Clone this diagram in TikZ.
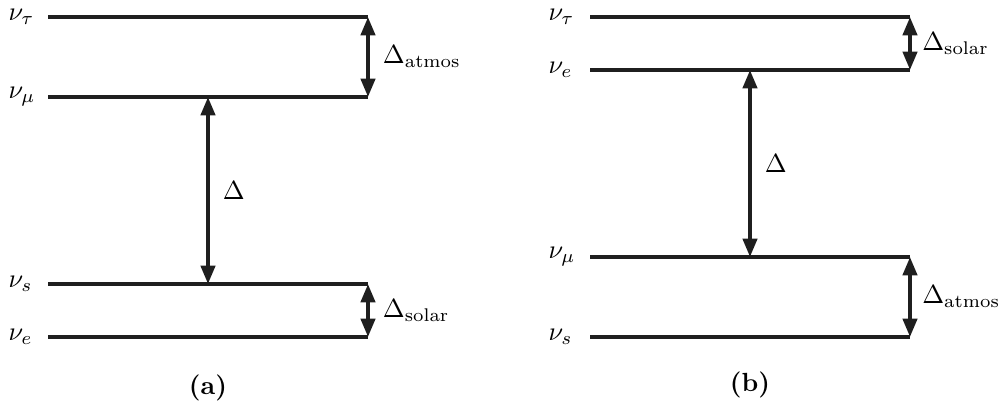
\documentclass[tikz,border=0pt]{standalone}
\usepackage{amsmath}
\usetikzlibrary{arrows.meta}

\begin{document}
\begin{tikzpicture}[
  x=0.0134cm, y=-0.0134cm,
  level/.style={line width=1.4pt, draw=black!88},
  gap/.style={{Triangle[length=7pt,width=5.4pt]}-{Triangle[length=7pt,width=5.4pt]}, line width=1.4pt, draw=black!88},
  state/.style={anchor=west, inner sep=0pt},
  split/.style={anchor=west, inner sep=0pt, xshift=5pt},
  caption/.style={font=\bfseries}
]
\useasboundingbox (0,0) rectangle (998,403);

% (a)
\coordinate (tauLa) at (48,17);   \coordinate (tauRa) at (368,17);
\coordinate (muLa)  at (48,97);   \coordinate (muRa)  at (368,97);
\coordinate (sLa)   at (48,284);  \coordinate (sRa)   at (368,284);
\coordinate (eLa)   at (48,337);  \coordinate (eRa)   at (368,337);
\path (muLa) -- (muRa) coordinate[midway] (muMa);
\path (sLa) -- (sRa) coordinate[midway] (sMa);

\foreach \lv in {tau,mu,s,e}
  \draw[level] (\lv La) -- (\lv Ra);

\node[state] (ntaua) at (8,17)  {$\nu_\tau$};
\node[state] (nmua)  at (8,97)  {$\nu_\mu$};
\node[state] (nsa)   at (8,284) {$\nu_s$};
\node[state] (nea)   at (8,337) {$\nu_e$};

\draw[gap] (tauRa) -- (muRa) node[midway, split] (atma) {$\Delta_{\text{atmos}}$};
\draw[gap] (muMa) -- (sMa) node[midway, split] (dela) {$\Delta$};
\draw[gap] (sRa) -- (eRa) node[midway, split] (sola) {$\Delta_{\text{solar}}$};

\node[caption] (capa) at (208,388) {(a)};

% (b)
\coordinate (tauLb) at (590,17);   \coordinate (tauRb) at (910,17);
\coordinate (eLb)   at (590,70);   \coordinate (eRb)   at (910,70);
\coordinate (muLb)  at (590,257);  \coordinate (muRb)  at (910,257);
\coordinate (sLb)   at (590,337);  \coordinate (sRb)   at (910,337);
\path (eLb) -- (eRb) coordinate[midway] (eMb);
\path (muLb) -- (muRb) coordinate[midway] (muMb);

\foreach \lv in {tau,e,mu,s}
  \draw[level] (\lv Lb) -- (\lv Rb);

\node[state] (ntaub) at (548,17)  {$\nu_\tau$};
\node[state] (neb)   at (548,70)  {$\nu_e$};
\node[state] (nmub)  at (548,257) {$\nu_\mu$};
\node[state] (nsb)   at (548,337) {$\nu_s$};

\draw[gap] (tauRb) -- (eRb) node[midway, split, xshift=-1pt] (solb) {$\Delta_{\text{solar}}$};
\draw[gap] (eMb) -- (muMb) node[midway, split] (delb) {$\Delta$};
\draw[gap] (muRb) -- (sRb) node[midway, split, xshift=-1pt] (atmb) {$\Delta_{\text{atmos}}$};

\node[caption] (capb) at (750,385) {(b)};
\end{tikzpicture}
\end{document}
